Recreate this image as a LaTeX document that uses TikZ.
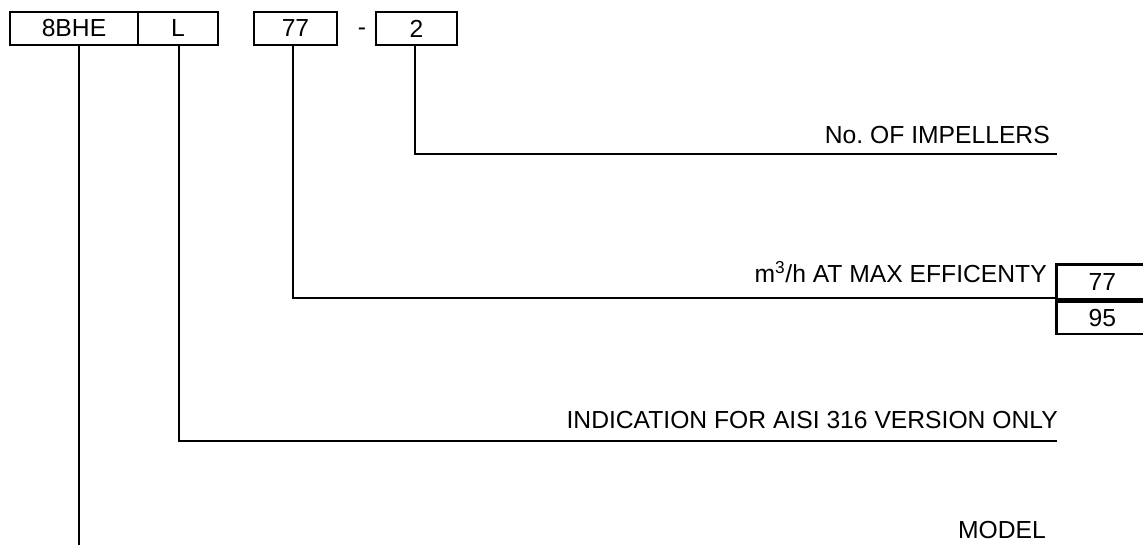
\documentclass[tikz,border=0pt]{standalone}
\usepackage{fontspec}
\setmainfont{Liberation Sans}
\usetikzlibrary{positioning}

\begin{document}
\begin{tikzpicture}[x=0.75pt, y=-0.75pt,
  codebox/.style={draw, line width=1.9pt, minimum height=25pt, inner sep=0pt,
    font=\fontsize{18.5}{20}\selectfont},
  lbl/.style={anchor=base east, inner sep=0pt, font=\fontsize{18.5}{20}\selectfont},
  lead/.style={line width=2pt}]
\useasboundingbox (0,0) rectangle (1143,544);

\node[codebox, minimum width=96pt] (bhe) at (74,28.5) {8BHE};
\node[codebox, minimum width=60pt] (lbox) at (178,28.5) {L};
\node[codebox, minimum width=62pt] (flow) at (295.5,28.5) {77};
\node[anchor=base, inner sep=0pt, font=\fontsize{18.5}{20}\selectfont] (dash) at (362,35) {-};
\node[codebox, minimum width=61pt] (imp) at (416.5,28.5) {2};

\coordinate (b1) at (79,45);
\coordinate (b2) at (179,45);
\coordinate (b3) at (293,45);
\coordinate (b4) at (415,45);
\coordinate (c1) at (79,546);
\coordinate (c2) at (179,441);
\coordinate (c3) at (293,298);
\coordinate (c4) at (415,154);
\coordinate (e2) at (1057,441);
\coordinate (e3) at (1055,298);
\coordinate (e4) at (1057,154);

\node[lbl] (nimp) at (1050,143) {No.\ OF IMPELLERS};
\node[lbl] (nflow) at (1047,282) {m\textsuperscript{3}/h AT MAX EFFICENTY};
\node[lbl] (nind) at (1058,428) {INDICATION FOR AISI 316 VERSION ONLY};
\node[lbl] (nmod) at (1046,538) {MODEL};

\node[codebox, minimum width=69pt, minimum height=26.25pt, anchor=north west] (v77) at (1055,263) {77};
\node[codebox, minimum width=69pt, minimum height=24pt, anchor=north west] (v95) at (v77.south west) {95};

\draw[lead] (b1) -- (c1);
\draw[lead] (b2) -- (c2) -- (e2);
\draw[lead] (b3) -- (c3) -- (e3);
\draw[lead] (b4) -- (c4) -- (e4);
\end{tikzpicture}
\end{document}
